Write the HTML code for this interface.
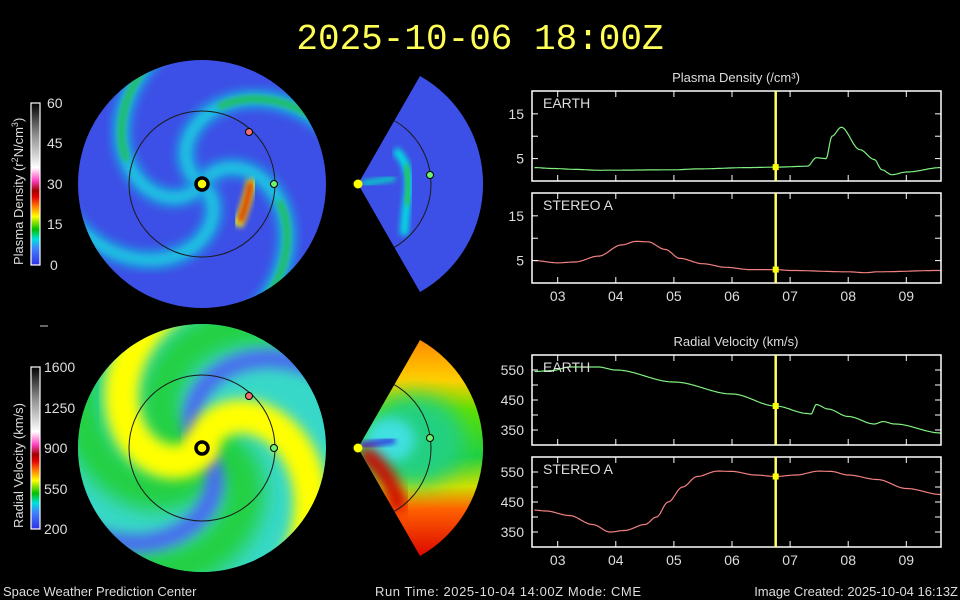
<!DOCTYPE html>
<html><head><meta charset="utf-8"><style>
html,body{margin:0;padding:0;background:#000;width:960px;height:600px;overflow:hidden}
svg{display:block}
</style></head><body>
<svg id="s" width="960" height="600" xmlns="http://www.w3.org/2000/svg" font-family="Liberation Sans, sans-serif">
<defs>
<filter id="b6" x="-20%" y="-20%" width="140%" height="140%"><feGaussianBlur stdDeviation="6"/></filter>
<filter id="b3" x="-20%" y="-20%" width="140%" height="140%"><feGaussianBlur stdDeviation="3"/></filter>
<filter id="b10" x="-30%" y="-30%" width="160%" height="160%"><feGaussianBlur stdDeviation="10"/></filter>
<clipPath id="c1"><circle cx="202" cy="184" r="124"/></clipPath>
<clipPath id="c2"><circle cx="202" cy="448" r="124"/></clipPath>
<clipPath id="w1"><path d="M358,184 L420,76 A124,124 0 0 1 420,292 Z"/></clipPath>
<clipPath id="w2"><path d="M358,448 L420,340 A124,124 0 0 1 420,556 Z"/></clipPath>
<linearGradient id="cbD" x1="0" y1="1" x2="0" y2="0">
<stop offset="0" stop-color="#3030e0"/><stop offset="0.1" stop-color="#4080ff"/><stop offset="0.16" stop-color="#00e0e0"/><stop offset="0.22" stop-color="#00c000"/><stop offset="0.3" stop-color="#ffff00"/><stop offset="0.36" stop-color="#ff8000"/><stop offset="0.42" stop-color="#e00000"/><stop offset="0.46" stop-color="#a00000"/><stop offset="0.52" stop-color="#ff40c0"/><stop offset="0.6" stop-color="#ffffff"/><stop offset="0.8" stop-color="#909090"/><stop offset="1" stop-color="#000"/></linearGradient>
<linearGradient id="wv" x1="0" y1="0" x2="0" y2="1">
<stop offset="0" stop-color="#ff7a00"/><stop offset="0.22" stop-color="#ffd000"/><stop offset="0.35" stop-color="#60e000"/><stop offset="0.55" stop-color="#20d040"/><stop offset="0.68" stop-color="#d0e000"/><stop offset="0.78" stop-color="#ff6000"/><stop offset="1" stop-color="#d80000"/></linearGradient>
</defs>
<rect width="960" height="600" fill="#000"/>
<text x="480" y="49" text-anchor="middle" font-family="Liberation Mono, monospace" font-size="36" fill="#ffff55">2025-10-06 18:00Z</text>

<g id="dDisk" clip-path="url(#c1)"><rect x="70" y="55" width="265" height="260" fill="#3c4fe6"/></g>
<g id="vDisk" clip-path="url(#c2)"><rect x="70" y="320" width="265" height="260" fill="#38d8c8"/></g>
<g clip-path="url(#w1)"><rect x="350" y="70" width="140" height="230" fill="#3c4fe6"/>
<path d="M362,184 L395,178" stroke="#00e0c0" stroke-width="5" filter="url(#b3)"/>
<path d="M395,150 Q412,165 408,195 Q405,215 404,235" stroke="#00e0e0" stroke-width="8" fill="none" filter="url(#b3)"/>
<path d="M405,165 Q412,180 407,205" stroke="#30c030" stroke-width="5" fill="none" filter="url(#b3)"/>
</g>
<g clip-path="url(#w2)"><rect x="350" y="330" width="140" height="230" fill="url(#wv)"/>
<ellipse cx="415" cy="440" rx="50" ry="45" fill="#20d080" filter="url(#b10)"/>
<ellipse cx="390" cy="440" rx="25" ry="22" fill="#40e0e0" filter="url(#b6)"/>
<path d="M360,446 L395,440" stroke="#3040e0" stroke-width="7" filter="url(#b3)"/>
<path d="M362,452 Q390,470 400,510" stroke="#d00000" stroke-width="16" fill="none" filter="url(#b6)"/>
</g>
<g fill="none" stroke="#1a1a1a" stroke-width="1">
<circle cx="202" cy="184" r="73"/><circle cx="202" cy="448" r="73"/>
<circle cx="358" cy="184" r="73" clip-path="url(#w1)"/><circle cx="358" cy="448" r="73" clip-path="url(#w2)"/></g>
<g stroke="#000" stroke-width="1">
<circle cx="202" cy="184" r="6" fill="#ff0" stroke-width="3.5"/><circle cx="202" cy="448" r="6" fill="#ff0" stroke-width="3.5"/>
<circle cx="358" cy="184" r="4.5" fill="#ff0" stroke="none"/><circle cx="358" cy="448" r="4.5" fill="#ff0" stroke="none"/>
<circle cx="249" cy="132" r="3.5" fill="#f07070"/><circle cx="274" cy="184" r="3.5" fill="#70f070"/>
<circle cx="249" cy="396" r="3.5" fill="#f07070"/><circle cx="274" cy="448" r="3.5" fill="#70f070"/>
<circle cx="430" cy="175" r="3.5" fill="#70f070"/><circle cx="430" cy="438" r="3.5" fill="#70f070"/>
</g>

<rect x="31" y="103" width="9" height="162" fill="url(#cbD)" stroke="#fff" stroke-width="1.2"/>
<rect x="31" y="367" width="9" height="162" fill="url(#cbD)" stroke="#fff" stroke-width="1.2"/>
<g fill="#ddd" font-size="14">
<text x="47" y="108">60</text><text x="47" y="148">45</text><text x="47" y="189">30</text><text x="47" y="229">15</text><text x="50" y="270">0</text>
<text x="44" y="372">1600</text><text x="44" y="413">1250</text><text x="44" y="453">900</text><text x="44" y="494">550</text><text x="44" y="534">200</text>
<text transform="translate(23,265) rotate(-90)" font-size="13">Plasma Density (r<tspan dy="-5" font-size="9">2</tspan><tspan dy="5">N/cm</tspan><tspan dy="-5" font-size="9">3</tspan><tspan dy="5">)</tspan></text>
<text transform="translate(23,528) rotate(-90)" font-size="13">Radial Velocity (km/s)</text>
</g>
<line x1="40" y1="326" x2="48" y2="326" stroke="#ccc"/>

<g id="plots"></g>
<g font-family="Liberation Sans Narrow, Liberation Sans, sans-serif" font-size="13" fill="#ddd">
<text x="3" y="596">Space Weather Prediction Center</text>
<text x="375" y="596" textLength="266" lengthAdjust="spacing">Run Time: 2025-10-04 14:00Z  Mode: CME</text>
<text x="958" y="596" text-anchor="end">Image Created: 2025-10-04 16:13Z</text>
</g>
</svg>
<script>
var NS="http://www.w3.org/2000/svg";
function el(p,t,a,txt){var e=document.createElementNS(NS,t);for(var k in a)e.setAttribute(k,a[k]);if(txt!=null)e.textContent=txt;p.appendChild(e);return e;}
function spiral(g,cx,cy,phi0,k,r0,r1,col,w,filt){var d="";for(var r=r0;r<=r1;r+=3){var f=phi0+k*r;var x=cx+r*Math.cos(f),y=cy+r*Math.sin(f);d+=(d?"L":"M")+x.toFixed(1)+","+y.toFixed(1);}el(g,"path",{d:d,stroke:col,"stroke-width":w,fill:"none",filter:filt,"stroke-linecap":"round"});}
var D=Math.PI/180;
var dd=document.getElementById("dDisk");
[[-150],[-60],[40],[125]].forEach(function(a){spiral(dd,202,184,a[0]*D,0.016,8,150,"#10e8e0",12,"url(#b6)");});
[[-150],[-60],[125]].forEach(function(a){spiral(dd,202,184,a[0]*D,0.016,80,150,"#20c030",5,"url(#b3)");});
el(dd,"path",{d:"M238,226 Q248,200 252,180",stroke:"#ff0",fill:"none","stroke-width":9,filter:"url(#b3)"});
el(dd,"path",{d:"M240,222 Q248,200 251,182",stroke:"#d00000",fill:"none","stroke-width":5,filter:"url(#b3)"});
var vd=document.getElementById("vDisk");
[-10,170,80].forEach(function(a){spiral(vd,202,448,a*D,0.016,5,170,"#20d040",40,"url(#b10)");});
[-130,45].forEach(function(a){spiral(vd,202,448,a*D,0.012,5,170,"#4a6af0",18,"url(#b6)");});
[125,-85].forEach(function(a){spiral(vd,202,448,a*D,0.016,5,170,"#ffff00",34,"url(#b6)");});
var P=document.getElementById("plots");
var X0=557.7,DX=58.1,XL=532,XR=941;
function xf(t){return X0+(t-3)*DX;}
function panel(top,lo,hi,ticks,lab,labs,label,data,col){
  var h=90,yf=function(v){return top+h-(v-lo)/(hi-lo)*h;};
  var pts=[];for(var i=0;i<data.length-1;i++){var a=data[i],b=data[i+1];for(var t=a[0];t<b[0];t+=0.02){var u=(t-a[0])/(b[0]-a[0]);u=u*u*(3-2*u);pts.push(xf(t).toFixed(1)+","+yf(a[1]+(b[1]-a[1])*u).toFixed(1));}}
  var last=data[data.length-1];pts.push(xf(last[0]).toFixed(1)+","+yf(last[1]).toFixed(1));
  el(P,"polyline",{points:pts.join(" "),fill:"none",stroke:col,"stroke-width":1.2});
  el(P,"rect",{x:XL,y:top,width:XR-XL,height:h,fill:"none",stroke:"#fff","stroke-width":1.5});
  for(var d=3;d<=9;d++){var x=xf(d);el(P,"line",{x1:x,x2:x,y1:top+h,y2:top+h-6,stroke:"#fff"});el(P,"line",{x1:x,x2:x,y1:top,y2:top+6,stroke:"#fff"});}
  ticks.forEach(function(v){var y=yf(v);el(P,"line",{x1:XL,x2:XL+6,y1:y,y2:y,stroke:"#fff"});el(P,"line",{x1:XR,x2:XR-6,y1:y,y2:y,stroke:"#fff"});});
  lab.forEach(function(v,i){el(P,"text",{x:524,y:yf(v)+5,"text-anchor":"end","font-size":14,fill:"#ddd"},labs[i]);});
  el(P,"text",{x:543,y:top+17,"font-size":14,fill:"#ddd"},label);
  el(P,"line",{x1:775.7,x2:775.7,y1:top,y2:top+h,stroke:"#ffff66","stroke-width":2.5});
  var tv=6.75,vv=0;for(var i=0;i<data.length-1;i++){if(data[i][0]<=tv&&data[i+1][0]>tv){var u=(tv-data[i][0])/(data[i+1][0]-data[i][0]);u=u*u*(3-2*u);vv=data[i][1]+(data[i+1][1]-data[i][1])*u;}}
  el(P,"rect",{x:772.7,y:yf(vv)-3,width:6,height:6,fill:"#ff0"});
}
panel(91,0,20.1,[5,10,15],[5,15],["5","15"],"EARTH",[[2.6,3],[2.9,2.8],[3.3,2.6],[3.7,2.4],[5,2.5],[5.4,2.7],[6.3,3],[6.75,3.1],[7.3,3.3],[7.45,5.2],[7.62,5],[7.72,10],[7.88,12],[8.2,7],[8.45,4.8],[8.58,2.5],[8.75,1.4],[9.0,2],[9.6,3]],"#80f080");
panel(193,0,20.1,[5,10,15],[5,15],["5","15"],"STEREO A",[[2.6,5],[3.0,4.5],[3.3,4.7],[3.7,6],[4.1,8.5],[4.35,9.3],[4.55,9.2],[4.85,7.5],[5.1,5.5],[5.5,4.3],[5.9,3.5],[6.3,3],[6.75,3],[7.0,2.8],[8.0,2.5],[8.3,2.3],[8.5,2.5],[9.6,2.8]],"#f08080");
panel(355,300,600,[350,400,450,500,550],[350,450,550],["350","450","550"],"EARTH",[[2.6,545],[2.9,548],[3.2,560],[3.7,560],[4.0,550],[5.0,510],[6.0,470],[6.75,430],[7.3,405],[7.36,403],[7.45,435],[7.65,420],[8.0,395],[8.45,370],[8.6,378],[8.8,370],[9.6,340]],"#80f080");
panel(457,300,600,[350,400,450,500,550],[350,450,550],["350","450","550"],"STEREO A",[[2.6,423],[2.8,420],[3.2,405],[3.6,375],[3.9,350],[4.15,355],[4.5,375],[4.7,400],[4.9,450],[5.15,500],[5.4,535],[5.75,553],[6.0,552],[6.4,540],[6.75,535],[7.1,540],[7.5,553],[7.7,552],[8.0,540],[8.5,525],[9.0,495],[9.6,475]],"#f08080");
["03","04","05","06","07","08","09"].forEach(function(s,i){el(P,"text",{x:xf(3+i),y:301,"text-anchor":"middle","font-size":14,fill:"#ddd"},s);el(P,"text",{x:xf(3+i),y:565,"text-anchor":"middle","font-size":14,fill:"#ddd"},s);});
el(P,"text",{x:736,y:82,"text-anchor":"middle","font-size":13,fill:"#ddd"},"Plasma Density (/cm³)");
el(P,"text",{x:736,y:346,"text-anchor":"middle","font-size":13,fill:"#ddd"},"Radial Velocity (km/s)");
</script>
</body></html>
